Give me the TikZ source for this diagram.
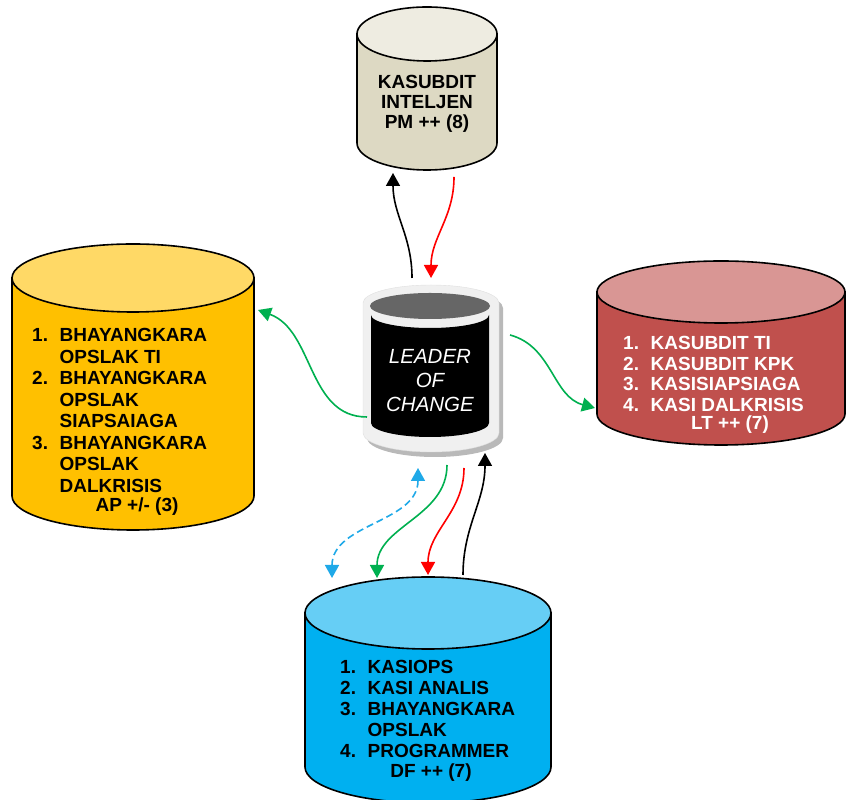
\documentclass[tikz,border=0pt]{standalone}
\usepackage{fontspec}
\setmainfont{Liberation Sans}
\usetikzlibrary{arrows.meta}
\definecolor{pm body}{HTML}{DDD9C3}
\definecolor{pm lid}{HTML}{EEECE1}
\definecolor{ap body}{HTML}{FFC000}
\definecolor{ap lid}{HTML}{FFD966}
\definecolor{lt body}{HTML}{C0504D}
\definecolor{lt lid}{HTML}{D99694}
\definecolor{df body}{HTML}{00B0F0}
\definecolor{df lid}{HTML}{66CEF5}
\definecolor{go green}{HTML}{00B050}
\definecolor{go blue}{HTML}{1FA9E8}
\colorlet{drum edge}{black}
\def\lcrim{(363,497) -- (363,367) arc[start angle=180, end angle=360, x radius=68, y radius=19]
    -- (499,497) arc[start angle=0, end angle=180, x radius=68, y radius=18] -- cycle}
\def\lcbody{(371,485) arc[start angle=180, end angle=360, x radius=59, y radius=13]
    -- (489,377) arc[start angle=0, end angle=-180, x radius=59, y radius=14] -- cycle}
\newcommand{\nr}[1]{\makebox[27.5pt][l]{#1}}
% drum: centre x, top y, bottom y, x radius, y radius, body, lid
\newcommand{\drum}[7]{%
    \filldraw[drumline, fill=#6] (#1-#4,#2) -- (#1-#4,#3)
        arc[start angle=180, end angle=360, x radius=#4, y radius=#5] -- (#1+#4,#2) -- cycle;
    \filldraw[drumline, fill=#7] (#1,#2) ellipse[x radius=#4, y radius=#5];
}
\tikzset{drumline/.style={draw=drum edge, line width=1.6pt},
    link/.style={line width=1.6pt, -{Triangle[width=14pt, length=13pt]}},
    both ways/.style={line width=1.6pt, dash pattern=on 7pt off 4pt,
        {Triangle[width=14pt, length=13pt]}-{Triangle[width=14pt, length=13pt]}},
    listtext/.style={anchor=base west, inner sep=0pt, font=\bfseries\fontsize{19}{#1}\selectfont},
    foot/.style={inner sep=0pt, font=\bfseries\fontsize{19}{21}\selectfont}}

\begin{document}
\begin{tikzpicture}[x=1pt, y=1pt]
    \useasboundingbox (0,0) rectangle (846,800);
    % the four drums
    \drum{427}{766}{657}{70}{27}{pm body}{pm lid}
    \drum{133}{522}{304}{121}{34}{ap body}{ap lid}
    \drum{721}{508}{386}{124}{31}{lt body}{lt lid}
    \drum{428}{187}{33}{123}{36}{df body}{df lid}
    % leader of change
    \fill[gray!55, shift={(4,-5)}] \lcrim;
    \filldraw[fill=gray!12, draw=gray!25] \lcrim;
    \fill[black] \lcbody;
    \fill[black!60] (430,494) ellipse[x radius=60, y radius=13];
    \node[text=white, align=center, font=\itshape\fontsize{20.5}{24}\selectfont] (lc) at (430,419) {LEADER\\OF\\CHANGE};
    % texts
    \node[align=center, font=\bfseries\fontsize{19}{20}\selectfont] (pm) at (427,696) {KASUBDIT\\INTELJEN\\PM ++ (8)};
    \node[listtext=21.5] (ap) at (32,458) {\begin{tabular}[t]{@{}l@{}}
        \nr{1.}BHAYANGKARA\\ \nr{}OPSLAK TI\\ \nr{2.}BHAYANGKARA\\ \nr{}OPSLAK\\ \nr{}SIAPSAIAGA\\
        \nr{3.}BHAYANGKARA\\ \nr{}OPSLAK\\ \nr{}DALKRISIS\end{tabular}};
    \node[foot] (apfoot) at (137,293) {AP +/- (3)};
    \node[listtext=20.5, text=white] (lt) at (623,450) {\begin{tabular}[t]{@{}l@{}}
        \nr{1.}KASUBDIT TI\\ \nr{2.}KASUBDIT KPK\\ \nr{3.}KASISIAPSIAGA\\ \nr{4.}KASI DALKRISIS\end{tabular}};
    \node[foot, text=white] (ltfoot) at (730,375) {LT ++ (7)};
    \node[listtext=21] (df) at (340,126) {\begin{tabular}[t]{@{}l@{}}
        \nr{1.}KASIOPS\\ \nr{2.}KASI ANALIS\\ \nr{3.}BHAYANGKARA\\ \nr{}OPSLAK\\ \nr{4.}PROGRAMMER\end{tabular}};
    \node[foot] (dffoot) at (431,27) {DF ++ (7)};
    % arrow ends
    \coordinate (lc-n1) at (412,522);
    \coordinate (lc-n2) at (431,522);
    \coordinate (pm-s1) at (393,627);
    \coordinate (pm-s2) at (454,623);
    \coordinate (lc-w) at (367,383);
    \coordinate (ap-e) at (258,490);
    \coordinate (lc-e) at (510,465);
    \coordinate (lt-w) at (595,392);
    \coordinate (lc-s1) at (418,332);
    \coordinate (lc-s2) at (447,335);
    \coordinate (lc-s3) at (464,332);
    \coordinate (lc-s4) at (485,347);
    \coordinate (df-n1) at (332,222);
    \coordinate (df-n2) at (377,222);
    \coordinate (df-n3) at (428,225);
    \coordinate (df-n4) at (463,225);
    % arrows
    \draw[link] (lc-n1) to[out=90, in=-90] (pm-s1);
    \draw[link, red] (pm-s2) to[out=-90, in=90] (lc-n2);
    \draw[link, go green] (lc-w) to[out=180, in=-20] (ap-e);
    \draw[link, go green] (lc-e) to[out=-15, in=165] (lt-w);
    \draw[both ways, go blue] (lc-s1) to[out=-90, in=90] (df-n1);
    \draw[link, go green] (lc-s2) to[out=-90, in=90] (df-n2);
    \draw[link, red] (lc-s3) to[out=-90, in=90] (df-n3);
    \draw[link] (df-n4) to[out=90, in=-90] (lc-s4);
\end{tikzpicture}
\end{document}
